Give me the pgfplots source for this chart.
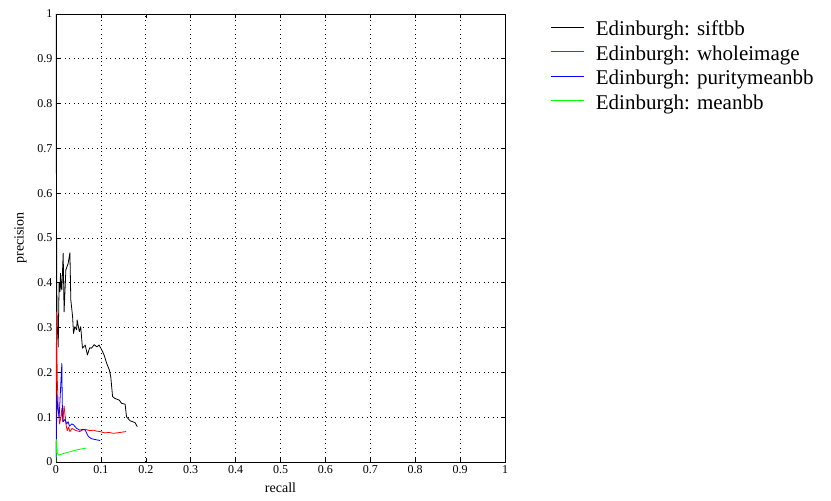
\documentclass[border=0pt]{standalone}
\usepackage{fontspec}
\setmainfont{Liberation Serif}
\usepackage{pgfplots}
\pgfplotsset{compat=1.18}
\pgfplotsset{legend image code/.code={\draw[#1] (0pt,6pt) -- (33pt,6pt);}}
\begin{document}
\begin{tikzpicture}
\path[use as bounding box] (0,0) rectangle (831pt,501pt);
\begin{axis}[
  at={(56pt,39pt)}, anchor=south west,
  scale only axis, width=449pt, height=448pt,
  xmin=0, xmax=1, ymin=0, ymax=1,
  xtick={0,0.1,...,1}, ytick={0,0.1,...,1},
  tick align=inside, major tick length=4pt,
  xtick pos=both, ytick pos=both,
  grid=major,
  major grid style={black, line width=0.7pt, dash pattern=on 0.7pt off 3.8pt},
  axis line style={black, line width=0.6pt},
  tick style={black, line width=0.6pt},
  /pgf/number format/assume math mode=true,
  ticklabel style={font=\fontsize{12}{14}\selectfont},
  xlabel={recall}, ylabel={precision},
  label style={font=\fontsize{14}{16}\selectfont},
  xlabel style={yshift=-2pt},
  ylabel style={yshift=4pt},
  legend cell align=left,
  legend style={at={(1.100,0.985)}, anchor=north west, draw=none, fill=none,
    font=\fontsize{21}{24}\selectfont, inner sep=0pt, row sep=0pt,
    nodes={inner sep=0pt, text height=15pt, text depth=9.5pt},
    /tikz/every odd column/.append style={column sep=12pt}},
  every axis plot/.append style={line width=0.8pt, line join=round},
]
\addplot[black] coordinates {
(0,1) (0.0005,0.8) (0.001,0.6) (0.0015,0.45) (0.002,0.35) (0.003,0.30) (0.005,0.257)
(0.006,0.34) (0.007,0.40) (0.009,0.38) (0.010,0.421) (0.012,0.39) (0.013,0.384)
(0.016,0.466) (0.018,0.335) (0.022,0.429) (0.027,0.443) (0.031,0.467) (0.033,0.362)
(0.037,0.324) (0.039,0.287) (0.042,0.302) (0.046,0.295) (0.047,0.317) (0.052,0.291)
(0.055,0.302) (0.059,0.254) (0.065,0.261) (0.070,0.239) (0.075,0.255) (0.079,0.254)
(0.085,0.262) (0.091,0.257) (0.096,0.261) (0.102,0.250) (0.107,0.239) (0.113,0.220)
(0.119,0.205) (0.122,0.190) (0.126,0.146) (0.131,0.142) (0.141,0.138) (0.146,0.131)
(0.154,0.129) (0.157,0.101) (0.165,0.092) (0.176,0.088) (0.181,0.079)
};
\addlegendentry{Edinburgh: siftbb}
\addplot[red] coordinates {
(0.0005,0.02) (0.001,0.335) (0.002,0.25) (0.003,0.18) (0.005,0.12) (0.008,0.085)
(0.011,0.10) (0.013,0.12) (0.015,0.09) (0.018,0.125) (0.020,0.105) (0.022,0.085)
(0.025,0.07) (0.028,0.078) (0.031,0.068) (0.036,0.075) (0.045,0.070) (0.053,0.068)
(0.060,0.072) (0.065,0.073) (0.075,0.070) (0.083,0.071) (0.090,0.069) (0.098,0.068)
(0.109,0.065) (0.118,0.066) (0.128,0.064) (0.136,0.065) (0.143,0.066) (0.156,0.068)
};
\addlegendentry{Edinburgh: wholeimage}
\addplot[blue] coordinates {
(0.0005,0.01) (0.002,0.15) (0.004,0.12) (0.007,0.10) (0.010,0.16) (0.013,0.22)
(0.014,0.13) (0.016,0.09) (0.020,0.095) (0.024,0.085) (0.027,0.09) (0.030,0.08)
(0.035,0.085) (0.039,0.083) (0.046,0.075) (0.053,0.071) (0.060,0.073) (0.065,0.071)
(0.072,0.057) (0.079,0.052) (0.088,0.050) (0.098,0.048)
};
\addlegendentry{Edinburgh: puritymeanbb}
\addplot[green] coordinates {
(0,0.0) (0.001,0.05) (0.003,0.02) (0.006,0.015) (0.010,0.017) (0.017,0.019)
(0.024,0.021) (0.035,0.024) (0.046,0.027) (0.056,0.029) (0.067,0.031)
};
\addlegendentry{Edinburgh: meanbb}
\end{axis}
\end{tikzpicture}
\end{document}
